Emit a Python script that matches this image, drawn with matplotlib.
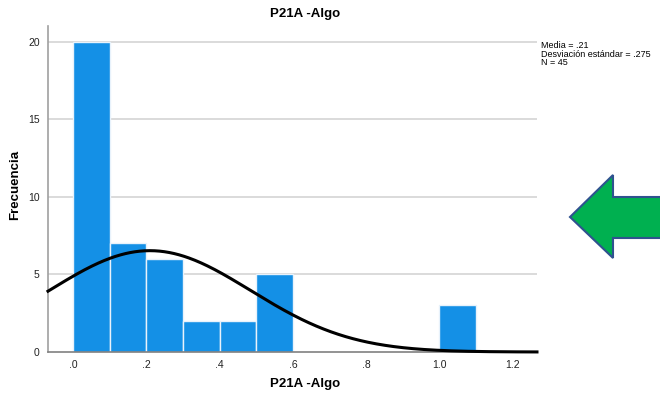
import numpy as np
import matplotlib
matplotlib.use("Agg")
import matplotlib.pyplot as plt
from matplotlib.patches import Polygon

bin_left = [0.0, 0.1, 0.2, 0.3, 0.4, 0.5, 1.0]
counts = [20, 7, 6, 2, 2, 5, 3]
bin_width = 0.1
mean = 0.21
sd = 0.275
n = 45
xticks = [0.0, 0.2, 0.4, 0.6, 0.8, 1.0, 1.2]
xticklabels = [".0", ".2", ".4", ".6", ".8", "1.0", "1.2"]
yticks = [0, 5, 10, 15, 20]

plt.rcParams['font.family'] = ['Liberation Sans', 'DejaVu Sans']

fig = plt.figure(figsize=(6.6, 3.99), dpi=100)
ax = fig.add_axes([0.0727, 0.1178, 0.7409, 0.817])

xmin, xmax = -0.068, 1.266
ax.set_xlim(xmin, xmax)
ax.set_ylim(0, 21.0)

for y in yticks[1:]:
    ax.axhline(y, color='#d4d4d4', lw=1.2, zorder=0)

ax.bar(bin_left, counts, width=bin_width, align='edge', color='#1490e6',
       edgecolor='#e8f2fb', linewidth=1.0, zorder=2)

xs = np.linspace(xmin, xmax, 400)
ys = n * bin_width / (sd * np.sqrt(2 * np.pi)) * np.exp(-0.5 * ((xs - mean) / sd) ** 2)
ax.plot(xs, ys, color='black', lw=2.2, zorder=3, clip_on=False)

for s in ['top', 'right']:
    ax.spines[s].set_visible(False)
ax.spines['left'].set_color('#a0a0a0')
ax.spines['bottom'].set_color('#808080')
ax.spines['left'].set_linewidth(1.2)
ax.spines['bottom'].set_linewidth(1.2)

ax.set_xticks(xticks)
ax.set_xticklabels(xticklabels)
ax.set_yticks(yticks)
ax.tick_params(axis='both', length=0, labelsize=7.5, colors='#222222', pad=6)

fig.text(305 / 660, 1 - 384 / 399, "P21A -Algo", fontsize=9.5, fontweight='bold',
         ha='center', va='center')
fig.text(15 / 660, 1 - 185 / 399, "Frecuencia", fontsize=9.5, fontweight='bold',
         ha='center', va='center', rotation=90)
fig.text(305 / 660, 1 - 14 / 399, "P21A -Algo", fontsize=9.5, fontweight='bold',
         ha='center', va='center')

fig.text(541 / 660, 1 - 41 / 399, "Media = .21\nDesviación estándar = .275\nN = 45",
         fontsize=6.5, ha='left', va='top', linespacing=0.95)

# green arrow (pixel coords)
pts_px = [(570, 217), (613, 175), (613, 197), (662, 197), (662, 238), (613, 238), (613, 258)]
pts = [(x / 660, 1 - y / 399) for x, y in pts_px]
arrow = Polygon(pts, closed=True, transform=fig.transFigure, facecolor='#00b050',
                edgecolor='#2f528f', linewidth=1.5)
fig.patches.append(arrow)

fig.savefig("out.png", dpi=100)
